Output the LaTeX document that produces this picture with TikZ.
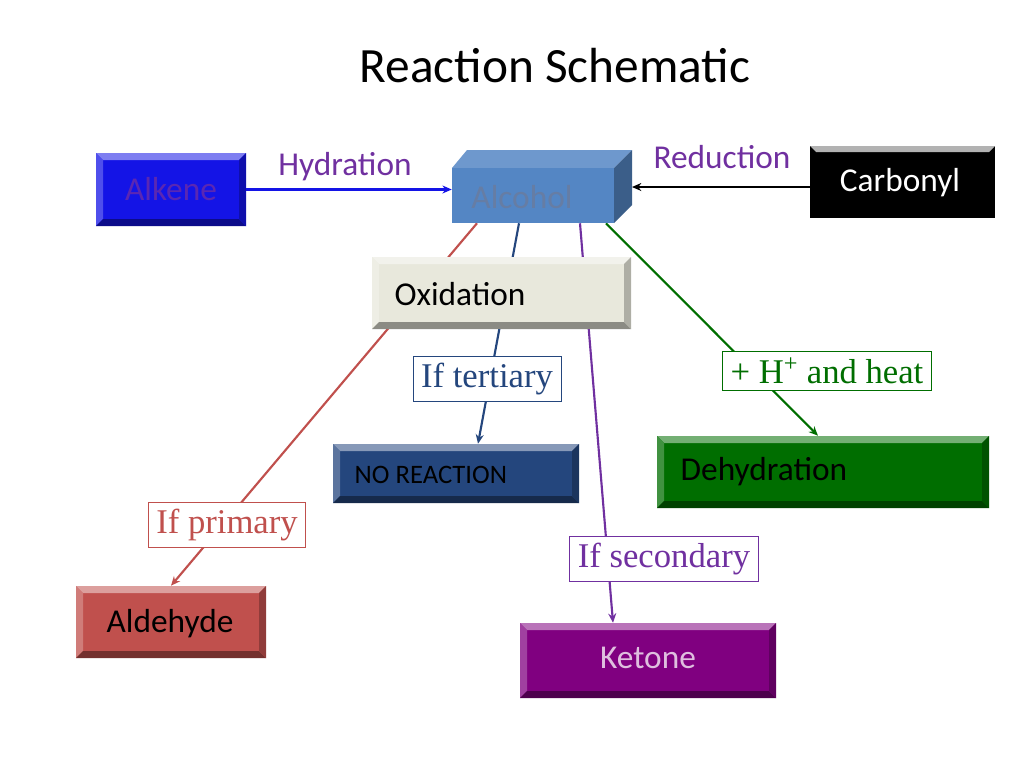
\documentclass[tikz,border=0pt]{standalone}
\usepackage{fontspec}
\setmainfont{Liberation Serif}
\newfontfamily\calibri{Carlito}
\usetikzlibrary{arrows.meta, calc, positioning, backgrounds}
\definecolor{alkblue}{RGB}{20,20,230}
\definecolor{alcblue}{RGB}{84,134,196}
\definecolor{oxbeige}{RGB}{232,232,220}
\definecolor{norblue}{RGB}{36,70,125}
\definecolor{dehgreen}{RGB}{0,110,0}
\definecolor{aldred}{RGB}{192,80,77}
\definecolor{ketpurple}{RGB}{128,0,128}
\definecolor{linepurple}{RGB}{112,48,160}
\definecolor{labpurple}{RGB}{112,48,160}

% bevelled button: name, x1, y1, x2, y2, colour
\newcommand{\bevelbox}[6]{%
  \fill[#6] (#2,#3) rectangle (#4,#5);
  \fill[#6!55!white] (#2,#3) -- (#4,#3) -- (#4-7,#3+7) -- (#2+7,#3+7) -- cycle;
  \fill[#6!75!white] (#2,#3) -- (#2+7,#3+7) -- (#2+7,#5-7) -- (#2,#5) -- cycle;
  \fill[#6!60!black] (#2,#5) -- (#4,#5) -- (#4-7,#5-7) -- (#2+7,#5-7) -- cycle;
  \fill[#6!75!black] (#4,#3) -- (#4,#5) -- (#4-7,#5-7) -- (#4-7,#3+7) -- cycle;
  \node[inner sep=0pt, minimum width={(#4-#2)*0.75pt}, minimum height={(#5-#3)*0.75pt}]
    (#1) at ({(#2+#4)/2},{(#3+#5)/2}) {};
}

\tikzset{
  boxtext/.style={font=\calibri\fontsize{25}{30}\selectfont},
  labelbox/.style={draw=#1, fill=white, text=#1, line width=0.6pt,
    font=\fontsize{26}{30}\selectfont, inner xsep=6pt, inner ysep=5pt},
  link/.style={line width=1.6pt, -{Stealth[length=7pt,width=6pt]}}
}

\begin{document}
\begin{tikzpicture}[x=0.75pt, y=-0.75pt]
    \useasboundingbox (0,0) rectangle (1024,768);

    % Title
    \node[font=\calibri\fontsize{37}{44}\selectfont] (title) at (555,66) {Reaction Schematic};

    % Alkene and Carbonyl
    \bevelbox{alkene}{96}{153}{246}{226}{alkblue}
    \node[boxtext, text=labpurple!80!blue] at (alkene) {Alkene};
    \fill[black] (810,146) rectangle (995,218);
    \fill[gray!60] (810,146) -- (995,146) -- (989,152) -- (816,152) -- cycle;
    \node[inner sep=0pt, minimum width=138.75pt, minimum height=54pt] (carbonyl) at (902.5,182) {};
    \node[boxtext, text=white] at (900,183) {Carbonyl};

    % Alcohol block
    \fill[alcblue!85!white] (452,168) -- (467,150) -- (632,150) -- (614,168) -- cycle;
    \fill[alcblue!70!black] (614,168) -- (632,150) -- (632,205) -- (614,223) -- cycle;
    \fill[alcblue] (452,168) rectangle (614,223);
    \node[inner sep=0pt, minimum width=121.5pt, minimum height=41.25pt] (alcohol) at (533,195.5) {};
    \coordinate (alcside) at (632,187);
    \node[boxtext, text=norblue!70!white] at (522,197) {Alcohol};

    % Oxidation
    \bevelbox{oxid}{372}{257}{631}{329}{oxbeige}
    \node[boxtext, anchor=west] at (390,294) {Oxidation};

    % Products
    \bevelbox{noreact}{333}{444}{579}{503}{norblue}
    \node[font=\calibri\fontsize{20}{24}\selectfont, anchor=west] at (350,475) {NO REACTION};
    \bevelbox{dehyd}{657}{436}{989}{508}{dehgreen}
    \node[boxtext, anchor=west] at (676,472) {Dehydration};
    \bevelbox{aldehyde}{76}{586}{266}{658}{aldred}
    \node[boxtext] at (170,624) {Aldehyde};
    \bevelbox{ketone}{520}{623}{776}{698}{ketpurple}
    \node[boxtext, text=ketpurple!25!white] at (648,658) {Ketone};

    % Condition labels
    \node[labelbox=norblue] (tert) at (487,379) {If tertiary};
    \node[labelbox=dehgreen] (heat) at (827,371) {+ H\textsuperscript{+} and heat};
    \node[labelbox=aldred] (prim) at (227,525) {If primary};
    \node[labelbox=labpurple] (sec) at (664,559) {If secondary};

    % Reaction arrows
    \node[font=\calibri\fontsize{25}{30}\selectfont, text=labpurple] (hyd) at (345,167) {Hydration};
    \node[font=\calibri\fontsize{25}{30}\selectfont, text=labpurple] (red) at (722,157) {Reduction};
    \draw[link, alkblue] (alkene.east) -- (alcohol.west |- alkene.east);
    \draw[link, black] (carbonyl.west |- alcside) -- (alcside);

    \begin{scope}[on background layer]
        \draw[link, aldred] ($(alcohol.south)+(-56,0)$) -- (aldehyde.north);
        \draw[link, norblue] ($(alcohol.south)+(-14,0)$) -- ($(noreact.north)+(22,0)$);
        \draw[link, linepurple] ($(alcohol.south)+(47,0)$) -- ($(ketone.north)+(-35,0)$);
        \draw[link, dehgreen] ($(alcohol.south)+(73,0)$) -- ($(dehyd.north)+(-5,0)$);
    \end{scope}
\end{tikzpicture}
\end{document}
